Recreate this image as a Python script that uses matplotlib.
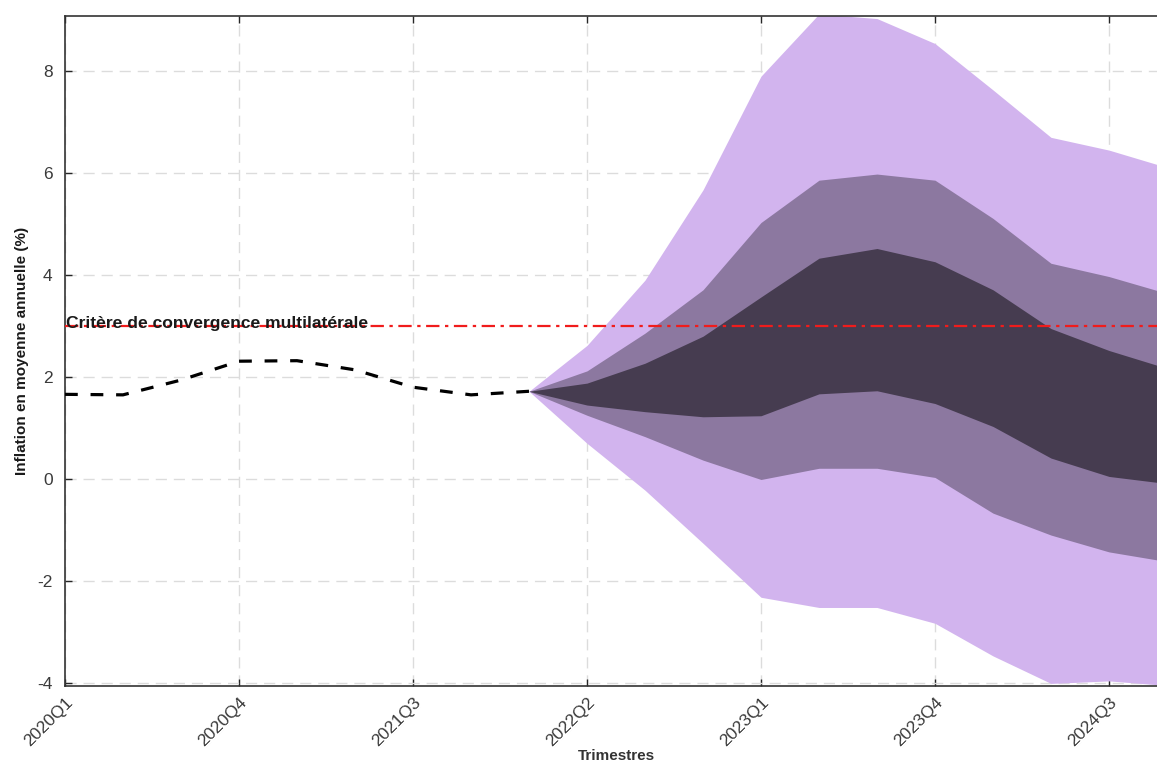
import matplotlib
matplotlib.use("Agg")
import matplotlib.pyplot as plt
import numpy as np

# Quarterly axis: 2020Q1 .. 2024Q4
quarters = [f"{y}Q{q}" for y in range(2020, 2025) for q in range(1, 5)]
tick_step = 3

# Observed annual average inflation (%), 2020Q1 .. 2022Q1
hist_values = [1.66, 1.65, 1.94, 2.31, 2.32, 2.14, 1.80, 1.65, 1.72]

# Fan chart bands, 2022Q1 .. 2024Q4
outer_upper = [1.72, 2.62, 3.90, 5.67, 7.90, 9.12, 9.03, 8.54, 7.63, 6.70, 6.45, 6.11]
outer_lower = [1.72, 0.70, -0.22, -1.26, -2.32, -2.52, -2.52, -2.83, -3.47, -4.01, -3.96, -4.05]
mid_upper = [1.72, 2.12, 2.86, 3.71, 5.03, 5.86, 5.98, 5.86, 5.11, 4.23, 3.97, 3.64]
mid_lower = [1.72, 1.25, 0.83, 0.37, -0.01, 0.21, 0.21, 0.03, -0.67, -1.10, -1.43, -1.62]
inner_upper = [1.72, 1.88, 2.27, 2.80, 3.57, 4.33, 4.52, 4.26, 3.71, 2.95, 2.52, 2.17]
inner_lower = [1.72, 1.45, 1.32, 1.22, 1.24, 1.67, 1.73, 1.48, 1.03, 0.41, 0.05, -0.09]

threshold = 3.0
threshold_label = "Critère de convergence multilatérale"
y_ticks = [-4, -2, 0, 2, 4, 6, 8]

x_hist = np.arange(len(hist_values))
x_fan = np.arange(len(hist_values) - 1, len(hist_values) - 1 + len(outer_upper))

W, H = 1157, 765
fig = plt.figure(figsize=(W / 100, H / 100), dpi=100)
left, right, top, bottom = 65, 1167, 16, 686
ax = fig.add_axes([left / W, (H - bottom) / H, (right - left) / W, (bottom - top) / H])

ax.set_axisbelow(True)
grid_kw = dict(color="#dcdcdc", linewidth=1.0, linestyle=(0, (8, 5)))
ax.grid(True, **grid_kw)

ax.fill_between(x_fan, outer_lower, outer_upper, color="#d2b4ee", linewidth=0, zorder=2)
ax.fill_between(x_fan, mid_lower, mid_upper, color="#8c78a0", linewidth=0, zorder=3)
ax.fill_between(x_fan, inner_lower, inner_upper, color="#463c50", linewidth=0, zorder=4)

ax.plot(x_hist, hist_values, color="black", linewidth=2.3, dashes=(4, 4), zorder=5)

ax.axhline(threshold, color="#f01c1c", linewidth=1.6, dashes=(6, 2.5, 1.5, 2.5), zorder=6)
ax.text(0.02, threshold - 0.03, threshold_label, fontsize=12.6, fontweight="bold",
        family=["Liberation Sans", "DejaVu Sans"], color="#1a1a1a",
        ha="left", va="baseline", zorder=7)

ax.set_xlim(0, len(quarters) - 1)
ax.set_ylim(-4.06, 9.08)
ax.set_yticks(y_ticks)
ax.set_yticklabels([str(v) for v in y_ticks])
xt = np.arange(0, len(quarters), tick_step)
ax.set_xticks(xt)
ax.set_xticklabels([quarters[i] for i in xt], rotation=45, ha="right",
                   rotation_mode="anchor")

for lab in ax.get_xticklabels() + ax.get_yticklabels():
    lab.set_family(["Liberation Sans", "DejaVu Sans"])
    lab.set_fontsize(12.5)
    lab.set_color("#3a3a3a")

ax.tick_params(direction="in", length=5, width=1, color="#262626",
               top=True, right=False)
ax.tick_params(axis="y", pad=9)
ax.tick_params(axis="x", pad=6)
for side in ["left", "bottom", "top"]:
    ax.spines[side].set_color("#333333")
    ax.spines[side].set_linewidth(1.2)
ax.spines["right"].set_visible(False)

ax.set_ylabel("Inflation en moyenne annuelle (%)", fontsize=11, fontweight="bold",
              family=["Liberation Sans", "DejaVu Sans"],
              color="#1a1a1a", labelpad=6)
ax.set_xlabel("Trimestres", fontsize=11, fontweight="bold",
              family=["Liberation Sans", "DejaVu Sans"], color="#333333", labelpad=0)

fig.savefig("out.png", dpi=100)
